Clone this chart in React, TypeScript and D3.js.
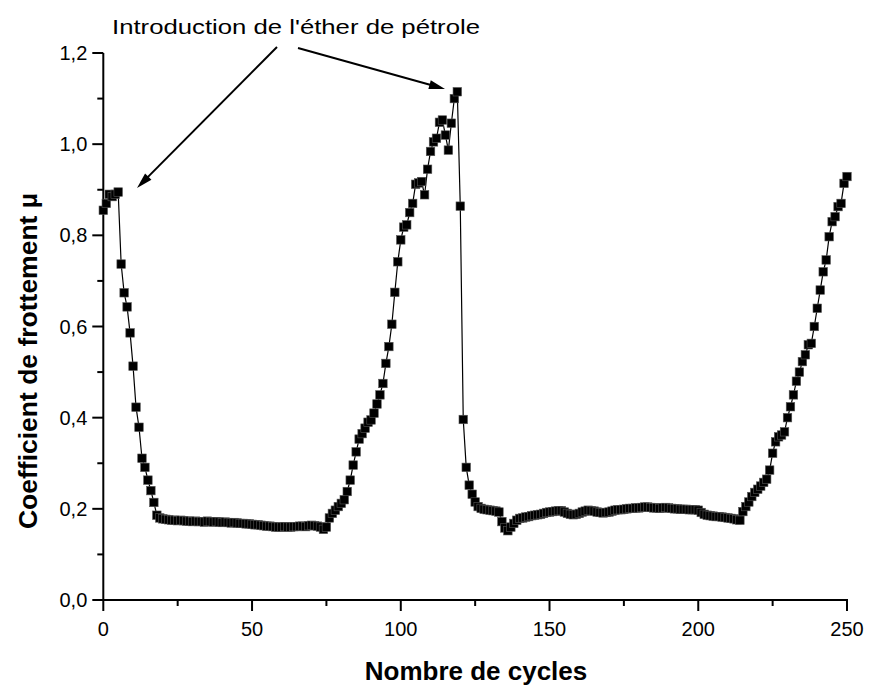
import React from "react";
import * as d3 from "d3";

const cycles: number[] = Array.from({ length: 251 }, (_, i) => i);

const mu: number[] = [
  0.855, 0.87, 0.89, 0.885, 0.89, 0.895, 0.737, 0.674, 0.643, 0.586,
  0.513, 0.423, 0.379, 0.311, 0.291, 0.263, 0.24, 0.214, 0.186, 0.18,
  0.178, 0.177, 0.176, 0.175, 0.175, 0.174, 0.175, 0.174, 0.173, 0.173,
  0.172, 0.173, 0.172, 0.172, 0.171, 0.173, 0.172, 0.171, 0.172, 0.171,
  0.17, 0.171, 0.17, 0.169, 0.17, 0.169, 0.168, 0.168, 0.167, 0.167,
  0.166, 0.165, 0.165, 0.164, 0.163, 0.162, 0.162, 0.161, 0.16, 0.16,
  0.16, 0.161, 0.16, 0.16, 0.161, 0.161, 0.162, 0.162, 0.161, 0.163,
  0.164, 0.163, 0.162, 0.16, 0.155, 0.16, 0.18, 0.19, 0.197, 0.205,
  0.212, 0.22, 0.238, 0.263, 0.296, 0.325, 0.353, 0.365, 0.377, 0.39,
  0.395, 0.41, 0.43, 0.45, 0.475, 0.519, 0.556, 0.605, 0.675, 0.742,
  0.79, 0.818, 0.823, 0.85, 0.87, 0.912, 0.915, 0.918, 0.889, 0.945,
  0.984, 1.005, 1.013, 1.048, 1.053, 1.02, 0.987, 1.046, 1.1, 1.115,
  0.864, 0.396, 0.291, 0.252, 0.232, 0.215, 0.205, 0.201, 0.199, 0.198,
  0.197, 0.196, 0.195, 0.193, 0.172, 0.158, 0.152, 0.16, 0.168, 0.175,
  0.179, 0.18, 0.182, 0.183, 0.185, 0.186, 0.187, 0.188, 0.19, 0.192,
  0.193, 0.194, 0.195, 0.196, 0.196, 0.193, 0.19, 0.188, 0.187, 0.188,
  0.19, 0.193, 0.195, 0.197, 0.196, 0.195, 0.193, 0.192, 0.191, 0.192,
  0.193, 0.195, 0.197, 0.198, 0.198, 0.199, 0.2, 0.201, 0.201, 0.202,
  0.202, 0.203, 0.204, 0.204, 0.203, 0.202, 0.202, 0.201, 0.202, 0.203,
  0.202, 0.201, 0.2, 0.2, 0.199, 0.199, 0.199, 0.198, 0.198, 0.198,
  0.197, 0.192, 0.188, 0.186, 0.185, 0.184, 0.183, 0.183, 0.182, 0.181,
  0.18, 0.179, 0.178, 0.176, 0.175, 0.194, 0.205, 0.215, 0.227, 0.236,
  0.243, 0.25, 0.258, 0.265, 0.285, 0.322, 0.347, 0.358, 0.362, 0.369,
  0.4, 0.424, 0.45, 0.48, 0.5, 0.523, 0.538, 0.56, 0.563, 0.6,
  0.64, 0.68, 0.72, 0.746, 0.797, 0.83, 0.841, 0.863, 0.87, 0.914,
  0.929,
];

const xTicks: number[] = [0, 50, 100, 150, 200, 250];
const xMinorTicks: number[] = [25, 75, 125, 175, 225];
const yTicks: number[] = [0, 0.2, 0.4, 0.6, 0.8, 1.0, 1.2];
const yMinorTicks: number[] = [0.1, 0.3, 0.5, 0.7, 0.9, 1.1];

const xTitle = "Nombre de cycles";
const yTitle = "Coefficient de frottement µ";
const annotation = "Introduction de l'éther de pétrole";

const FONT = "'Liberation Sans', Arial, Helvetica, sans-serif";

type Arrow = { x1: number; y1: number; x2: number; y2: number };

export default function App() {
  const W = 870;
  const H = 689;
  const x = d3.scaleLinear().domain([0, 250]).range([103.3, 847]);
  const y = d3.scaleLinear().domain([0, 1.2]).range([600, 53]);
  const fmt = (v: number) => d3.format(".1f")(v).replace(".", ",");

  const line = d3
    .line<number>()
    .x((_, i) => x(cycles[i]))
    .y((d) => y(d));

  const ms = 8.5;

  const arrows: Arrow[] = [
    { x1: 277, y1: 47, x2: 137, y2: 188 },
    { x1: 298, y1: 48, x2: 445, y2: 89 },
  ];

  const arrowHead = (a: Arrow) => {
    const ang = Math.atan2(a.y2 - a.y1, a.x2 - a.x1);
    const L = 16;
    const w = 4.5;
    const bx = a.x2 - L * Math.cos(ang);
    const by = a.y2 - L * Math.sin(ang);
    const px = -Math.sin(ang) * w;
    const py = Math.cos(ang) * w;
    return `M${a.x2},${a.y2} L${bx + px},${by + py} L${bx - px},${by - py} Z`;
  };
  const shaftEnd = (a: Arrow) => {
    const ang = Math.atan2(a.y2 - a.y1, a.x2 - a.x1);
    return { x: a.x2 - 10 * Math.cos(ang), y: a.y2 - 10 * Math.sin(ang) };
  };

  return (
    <div style={{ position: "absolute", left: 0, top: 0 }}>
      <svg width={W} height={H} style={{ display: "block", background: "#fff" }}>
        <rect width={W} height={H} fill="#fff" />
        {/* axes */}
        <line x1={x(0)} x2={x(0)} y1={y(0) + 1} y2={y(1.2)} stroke="#000" strokeWidth={2} />
        <line x1={x(0) - 1} x2={x(250) + 1} y1={y(0)} y2={y(0)} stroke="#000" strokeWidth={2} />
        {yTicks.map((t) => (
          <g key={"yt" + t}>
            <line x1={x(0) - 11} x2={x(0)} y1={y(t)} y2={y(t)} stroke="#000" strokeWidth={2} />
            <text
              x={x(0) - 16}
              y={y(t)}
              dy="0.35em"
              textAnchor="end"
              fontSize={20}
              fontFamily={FONT}
              fill="#000"
            >
              {fmt(t)}
            </text>
          </g>
        ))}
        {yMinorTicks.map((t) => (
          <line key={"ym" + t} x1={x(0) - 6} x2={x(0)} y1={y(t)} y2={y(t)} stroke="#000" strokeWidth={2} />
        ))}
        {xTicks.map((t) => (
          <g key={"xt" + t}>
            <line x1={x(t)} x2={x(t)} y1={y(0)} y2={y(0) + 11} stroke="#000" strokeWidth={2} />
            <text
              x={x(t)}
              y={636}
              textAnchor="middle"
              fontSize={20}
              fontFamily={FONT}
              fill="#000"
            >
              {t}
            </text>
          </g>
        ))}
        {xMinorTicks.map((t) => (
          <line key={"xm" + t} x1={x(t)} x2={x(t)} y1={y(0)} y2={y(0) + 6} stroke="#000" strokeWidth={2} />
        ))}

        {/* data */}
        <path d={line(mu) || ""} fill="none" stroke="#000" strokeWidth={1.2} />
        {mu.map((v, i) => (
          <rect
            key={"p" + i}
            x={x(cycles[i]) - ms / 2}
            y={y(v) - ms / 2}
            width={ms}
            height={ms}
            fill="#000"
            stroke="#555"
            strokeWidth={0.6}
          />
        ))}

        {/* annotation */}
        <text
          x={112}
          y={34}
          fontSize={21}
          fontFamily={FONT}
          fill="#000"
          textLength={368}
          lengthAdjust="spacingAndGlyphs"
        >
          {annotation}
        </text>
        {arrows.map((a, i) => {
          const e = shaftEnd(a);
          return (
            <g key={"a" + i}>
              <line x1={a.x1} y1={a.y1} x2={e.x} y2={e.y} stroke="#000" strokeWidth={2} />
              <path d={arrowHead(a)} fill="#000" />
            </g>
          );
        })}

        {/* titles */}
        <text
          x={476}
          y={680}
          textAnchor="middle"
          fontSize={26}
          fontWeight="bold"
          fontFamily={FONT}
          fill="#000"
        >
          {xTitle}
        </text>
        <text
          transform={`translate(37,361) rotate(-90)`}
          textAnchor="middle"
          fontSize={26}
          fontWeight="bold"
          fontFamily={FONT}
          fill="#000"
          textLength={336}
          lengthAdjust="spacingAndGlyphs"
        >
          {yTitle}
        </text>
      </svg>
    </div>
  );
}
